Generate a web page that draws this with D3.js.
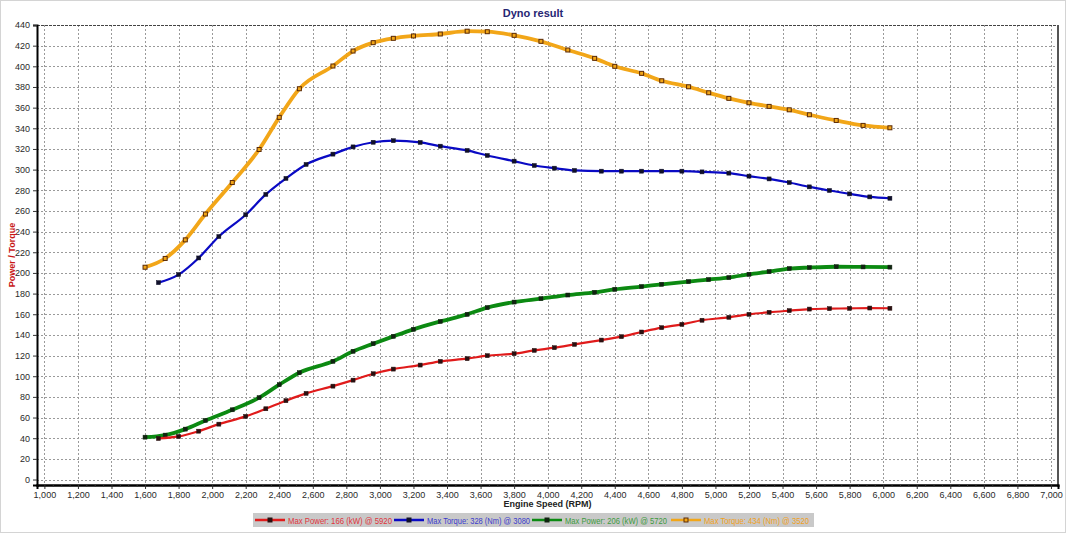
<!DOCTYPE html>
<html>
<head>
<meta charset="utf-8">
<script src="https://cdn.jsdelivr.net/npm/d3@7"></script>
<style>
  body { margin: 0; background: #fff; }
  svg { display: block; font-family: "Liberation Sans", Arial, sans-serif; }
</style>
</head>
<body>
<div id="dyno"></div>
<script>
// rpm points (two runs sampled slightly differently)
var rpmA = [1680,1800,1920,2040,2200,2320,2440,2560,2720,2840,2960,3080,3240,3360,3520,3640,3800,3920,
            4040,4160,4320,4440,4560,4680,4800,4920,5080,5200,5320,5440,5560,5680,5800,5920,6040];
var rpmB = [1600,1720,1840,1960,2120,2280,2400,2520,2720,2840,2960,3080,3200,3360,3520,3640,3800,3960,
            4120,4280,4400,4560,4680,4840,4960,5080,5200,5320,5440,5560,5720,5880,6040];

// run 1
var powerA = [39.7,41.7,46.8,53.6,61.1,68.5,76.3,83.4,90.4,96.2,102.4,106.9,110.8,114.4,117,119.9,121.8,125,
              127.6,130.8,135,138.3,142.8,147,150.2,154.2,157,159.9,161.9,163.5,165,165.4,165.7,166,165.8];
var torqueA = [190.6,198.4,214.5,235.2,256.3,276,291.5,305,315,322,326.5,328,326.3,322.7,318.6,313.7,308.2,304,
               301.4,299.2,298.5,298.5,298.5,298.5,298.5,297.8,296.6,293.7,291,287.5,283.3,279.8,276.5,273.6,272.3];
// run 2
var powerB = [41,43,48.8,57.2,67.5,79.2,91.8,103.4,114.4,124.1,131.5,138.6,145.4,153,159.9,166.4,171.8,175.1,
              178.6,181.2,184.1,186.8,189,191.6,193.6,195.5,198.7,201.3,204.2,205.2,206,205.8,205.6];
var torqueB = [205.5,214,232,257,287.5,319.5,350.6,378.3,400.3,414.8,422.9,427.1,429.4,431.3,434,433.5,430,424.2,
               415.8,407.7,400,393.2,386,380.2,374.4,369,364.7,361.2,357.9,353.1,347.6,342.8,340.5];

var legendLabels = ["Max Power: 166 (kW) @ 5920", "Max Torque: 328 (Nm) @ 3080",
                    "Max Power: 206 (kW) @ 5720", "Max Torque: 434 (Nm) @ 3520"];
var xTicks = d3.range(1000, 7001, 200);
var yTicks = d3.range(0, 441, 20);

var width = 1066, height = 533;
var plot = {left: 37, top: 25, right: 1058, bottom: 485};

var svg = d3.select("#dyno")
  .append("svg")
    .attr("width", width)
    .attr("height", height);

// light frame round the picture
svg.append("rect")
  .attr("x", 0.5).attr("y", 0.5)
  .attr("width", width - 1).attr("height", height - 1)
  .attr("fill", "#fff")
  .attr("stroke", "#d4d4d4");

var x = d3.scaleLinear()
  .domain([956, 7042])
  .range([plot.left, plot.right]);
var y = d3.scaleLinear()
  .domain([-5.3, 440])
  .range([plot.bottom, plot.top]);

// dotted grid
var grid = svg.append("g")
  .attr("stroke", "#9a9a9a")
  .attr("stroke-dasharray", "2,2")
  .attr("stroke-width", 1);
grid.selectAll(".vg")
  .data(xTicks)
  .enter()
  .append("line")
    .attr("x1", function(d) { return Math.round(x(d)) + 0.5; })
    .attr("x2", function(d) { return Math.round(x(d)) + 0.5; })
    .attr("y1", plot.top)
    .attr("y2", plot.bottom);
grid.selectAll(".hg")
  .data(yTicks)
  .enter()
  .append("line")
    .attr("x1", plot.left)
    .attr("x2", plot.right)
    .attr("y1", function(d) { return Math.round(y(d)) + 0.5; })
    .attr("y2", function(d) { return Math.round(y(d)) + 0.5; });

// plot border
svg.append("line")
  .attr("x1", plot.left).attr("x2", plot.right)
  .attr("y1", plot.top + 0.5).attr("y2", plot.top + 0.5)
  .attr("stroke", "#444").attr("stroke-dasharray", "3,1");
svg.append("line")
  .attr("x1", plot.right).attr("x2", plot.right)
  .attr("y1", plot.top).attr("y2", plot.bottom)
  .attr("stroke", "#555").attr("stroke-width", 2);

// axes
var xAxis = svg.append("g")
  .attr("transform", "translate(0," + plot.bottom + ")")
  .call(d3.axisBottom(x).tickValues(xTicks).tickSize(4).tickPadding(3)
    .tickFormat(d3.format(",")));
var xMinor = svg.append("g")
  .attr("transform", "translate(0," + plot.bottom + ")")
  .call(d3.axisBottom(x).tickValues(d3.range(1000, 7001, 50)).tickSize(2).tickFormat(""));
var yAxis = svg.append("g")
  .attr("transform", "translate(" + plot.left + ",0)")
  .call(d3.axisLeft(y).tickValues(yTicks).tickSize(4).tickPadding(3));

[xAxis, xMinor, yAxis].forEach(function(g) {
  g.select(".domain").attr("stroke", "#000").attr("stroke-width", 2);
  g.selectAll(".tick line").attr("stroke", "#333");
  g.selectAll("text")
    .attr("fill", "#2a2a2a")
    .style("font-size", "9px");
});

// titles
svg.append("text")
  .attr("x", 533).attr("y", 17)
  .attr("text-anchor", "middle")
  .attr("fill", "#262673")
  .style("font-size", "11px")
  .style("font-weight", "bold")
  .text("Dyno result");
svg.append("text")
  .attr("x", (plot.left + plot.right) / 2).attr("y", 507)
  .attr("text-anchor", "middle")
  .attr("fill", "#222")
  .style("font-size", "9px")
  .style("font-weight", "bold")
  .text("Engine Speed (RPM)");
svg.append("text")
  .attr("transform", "translate(15," + 255 + ") rotate(-90)")
  .attr("text-anchor", "middle")
  .attr("fill", "#c81818")
  .style("font-size", "9px")
  .style("font-weight", "bold")
  .text("Power / Torque");

// series
var series = [
  {rpm: rpmA, values: powerA,  color: "#e01b1b", width: 2.2, mark: "#2a1010", label: legendLabels[0], text: "#e0343c"},
  {rpm: rpmA, values: torqueA, color: "#0a0ac4", width: 2.2, mark: "#10102a", label: legendLabels[1], text: "#3a3acc"},
  {rpm: rpmB, values: powerB,  color: "#0c8a12", width: 3.8, mark: "#102410", label: legendLabels[2], text: "#3c9a3c"},
  {rpm: rpmB, values: torqueB, color: "#f2a618", width: 3.8, mark: "#5a2a08", label: legendLabels[3], text: "#f0a020"}
];

var line = d3.line()
  .x(function(d) { return x(d[0]); })
  .y(function(d) { return y(d[1]); })
  .curve(d3.curveMonotoneX);

// draw thick curves first so thin ones sit above
[3, 2, 1, 0].forEach(function(i) {
  var s = series[i];
  var pts = s.rpm.map(function(r, k) { return [r, s.values[k]]; });
  svg.append("path")
    .datum(pts)
    .attr("fill", "none")
    .attr("stroke", s.color)
    .attr("stroke-width", s.width)
    .attr("stroke-linejoin", "round")
    .attr("d", line);
  svg.append("g").selectAll("rect")
    .data(pts)
    .enter()
    .append("rect")
      .attr("x", function(d) { return x(d[0]) - 2; })
      .attr("y", function(d) { return y(d[1]) - 2; })
      .attr("width", 4)
      .attr("height", 4)
      .attr("fill", i == 3 ? s.color : s.mark)
      .attr("stroke", s.mark)
      .attr("stroke-width", i == 3 ? 1 : 0.5);
});

// legend
var legend = svg.append("g");
legend.append("rect")
  .attr("x", 253).attr("y", 513)
  .attr("width", 561).attr("height", 14)
  .attr("fill", "#c9c9c9");
var legendX = [255, 394, 532, 671];
var legendW = [104, 103, 102, 105];
series.forEach(function(s, i) {
  var lx = legendX[i];
  legend.append("line")
    .attr("x1", lx).attr("x2", lx + 30)
    .attr("y1", 520).attr("y2", 520)
    .attr("stroke", s.color)
    .attr("stroke-width", 2.5);
  legend.append("rect")
    .attr("x", lx + 13).attr("y", 518)
    .attr("width", 4).attr("height", 4)
    .attr("fill", i == 3 ? s.color : s.mark)
    .attr("stroke", s.mark)
    .attr("stroke-width", 1);
  legend.append("text")
    .attr("x", lx + 33).attr("y", 523.5)
    .attr("fill", s.text)
    .attr("textLength", legendW[i])
    .attr("lengthAdjust", "spacingAndGlyphs")
    .style("font-size", "9px")
    .text(s.label);
});
</script>
</body>
</html>
